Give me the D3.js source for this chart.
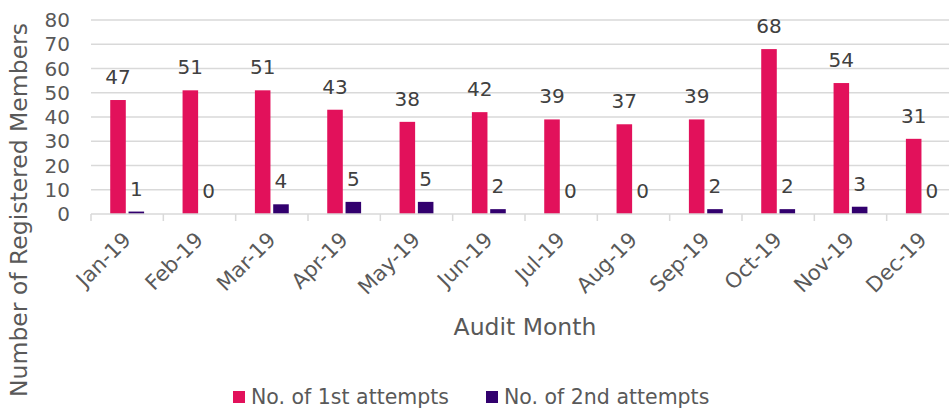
<!DOCTYPE html>
<html>
<head>
<meta charset="utf-8">
<script src="https://cdn.jsdelivr.net/npm/d3@7"></script>
<style>
body{margin:0;background:#fff}
svg{font-family:"DejaVu Sans",sans-serif}
</style>
</head>
<body>
<svg id="chart"></svg>
<script>
var months=["Jan-19","Feb-19","Mar-19","Apr-19","May-19","Jun-19","Jul-19","Aug-19","Sep-19","Oct-19","Nov-19","Dec-19"]
var firstAttempts=[47,51,51,43,38,42,39,37,39,68,54,31]
var secondAttempts=[1,0,4,5,5,2,0,0,2,2,3,0]
var seriesNames=["No. of 1st attempts","No. of 2nd attempts"]
var seriesColors=["#E2115B","#32006E"]
var yTicks=[0,10,20,30,40,50,60,70,80]

var screen={width:949,height:410}
var margins={top:20,bottom:196,left:91,right:-10}

var svg=d3.select("#chart")
    .attr("width",screen.width)
    .attr("height",screen.height)

var xScale=d3.scaleBand()
    .domain(months)
    .range([margins.left,screen.width-margins.right])
var yScale=d3.scaleLinear()
    .domain([0,80])
    .range([screen.height-margins.bottom,margins.top])

//gridlines
svg.append("g")
    .selectAll("line")
    .data(yTicks.slice(1))
    .enter()
    .append("line")
    .attr("x1",margins.left)
    .attr("x2",screen.width-margins.right)
    .attr("y1",function(d){return yScale(d)})
    .attr("y2",function(d){return yScale(d)})
    .attr("stroke","#D9D9D9")
    .attr("stroke-width",1.5)

//y labels
svg.append("g")
    .selectAll("text")
    .data(yTicks)
    .enter()
    .append("text")
    .attr("x",70)
    .attr("y",function(d){return yScale(d)+7})
    .attr("text-anchor","end")
    .attr("font-size",20)
    .attr("fill","#595959")
    .text(function(d){return d})

var inner=d3.scaleBand()
    .domain([0,1])
    .range([0,xScale.bandwidth()])
    .paddingInner(0.15)
    .paddingOuter(1.05)

var series=[firstAttempts,secondAttempts]
series.forEach(function(vals,si){
    var g=svg.append("g")
    g.selectAll("rect")
        .data(vals)
        .enter()
        .append("rect")
        .attr("x",function(d,i){return xScale(months[i])+inner(si)})
        .attr("width",inner.bandwidth())
        .attr("y",function(d){return yScale(d)})
        .attr("height",function(d){return yScale(0)-yScale(d)})
        .attr("fill",seriesColors[si])
    g.selectAll("text")
        .data(vals)
        .enter()
        .append("text")
        .attr("x",function(d,i){return xScale(months[i])+inner(si)+inner.bandwidth()/2})
        .attr("y",function(d){return yScale(d)-16})
        .attr("text-anchor","middle")
        .attr("font-size",20)
        .attr("fill","#404040")
        .text(function(d){return d})
})

//x axis line + tick marks
svg.append("line")
    .attr("x1",margins.left)
    .attr("x2",screen.width-margins.right)
    .attr("y1",yScale(0))
    .attr("y2",yScale(0))
    .attr("stroke","#D9D9D9")
    .attr("stroke-width",1.5)
svg.append("g")
    .selectAll("line")
    .data(months.concat(["end"]))
    .enter()
    .append("line")
    .attr("x1",function(d,i){return margins.left+i*xScale.step()})
    .attr("x2",function(d,i){return margins.left+i*xScale.step()})
    .attr("y1",yScale(0))
    .attr("y2",yScale(0)+7)
    .attr("stroke","#D9D9D9")
    .attr("stroke-width",1.5)

svg.append("g")
    .selectAll("text")
    .data(months)
    .enter()
    .append("text")
    .attr("transform",function(d){
        var x=xScale(d)+xScale.bandwidth()/2+5
        return "translate("+x+",241) rotate(-45)"})
    .attr("text-anchor","end")
    .attr("font-size",21)
    .attr("fill","#595959")
    .text(function(d){return d})

//axis titles
svg.append("text")
    .attr("x",525)
    .attr("y",335)
    .attr("text-anchor","middle")
    .attr("font-size",23.5)
    .attr("fill","#595959")
    .text("Audit Month")
svg.append("text")
    .attr("transform","translate(27,210) rotate(-90)")
    .attr("text-anchor","middle")
    .attr("font-size",23.5)
    .attr("fill","#595959")
    .text("Number of Registered Members")

//legend
var legendX=[233,486]
seriesNames.forEach(function(name,i){
    svg.append("rect")
        .attr("x",legendX[i])
        .attr("y",391)
        .attr("width",12)
        .attr("height",12)
        .attr("fill",seriesColors[i])
    svg.append("text")
        .attr("x",legendX[i]+18)
        .attr("y",404)
        .attr("font-size",20.5)
        .attr("fill","#595959")
        .text(name)
})
</script>
</body>
</html>
